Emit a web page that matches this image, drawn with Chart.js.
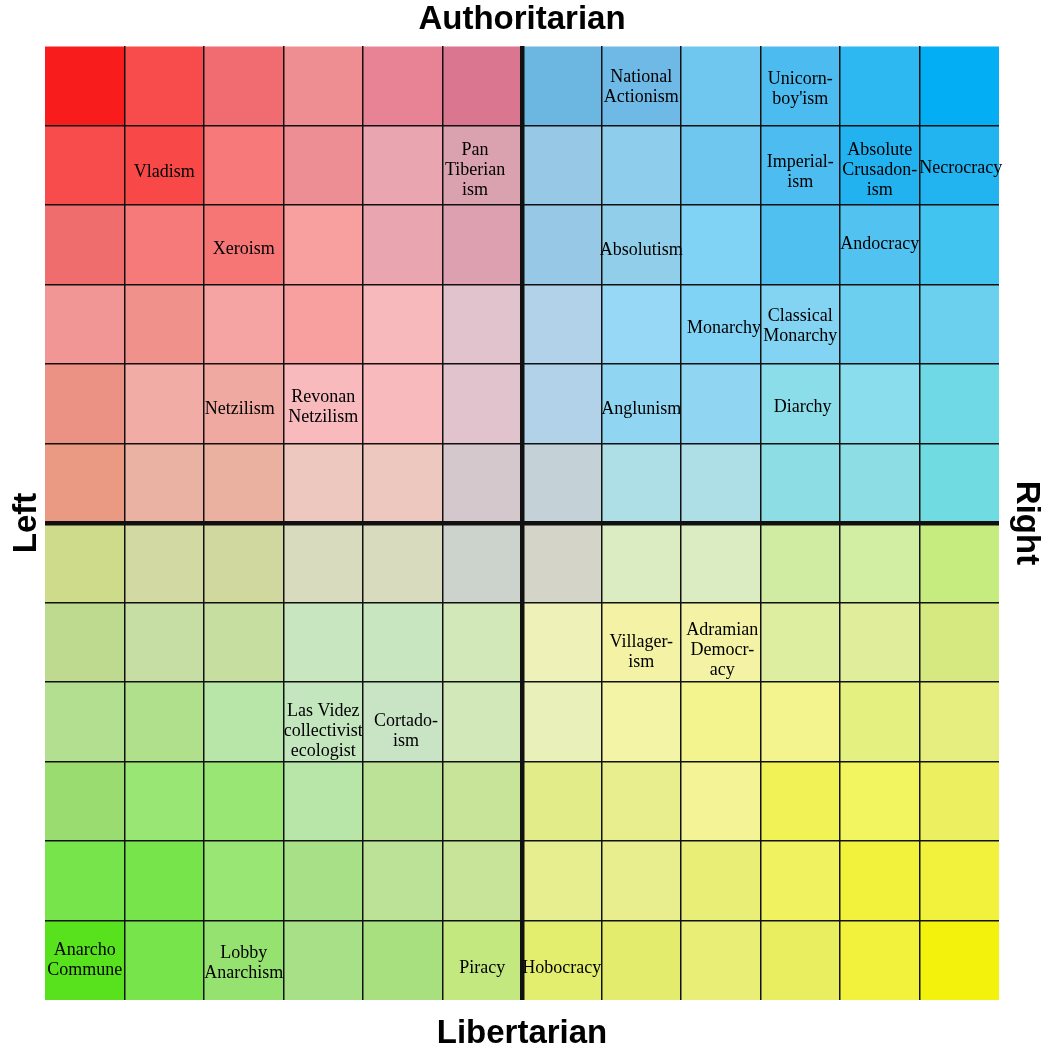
<!DOCTYPE html>
<html>
<head>
<meta charset="utf-8">
<title>Political compass</title>
<script src="https://cdn.jsdelivr.net/npm/chart.js@4.4.1/dist/chart.umd.min.js"></script>
<style>
  body { margin: 0; background: #fff; }
  canvas { display: block; }
</style>
</head>
<body>
<canvas id="compass" width="1050" height="1050"></canvas>
<script>
// columns go left -> right, rows go top (authoritarian) -> bottom (libertarian)
const columns = ['L6', 'L5', 'L4', 'L3', 'L2', 'L1', 'R1', 'R2', 'R3', 'R4', 'R5', 'R6'];
const rows = ['A6', 'A5', 'A4', 'A3', 'A2', 'A1', 'B1', 'B2', 'B3', 'B4', 'B5', 'B6'];

const cellColors = [
    ['#F91C1C', '#F84B4B', '#F06C70', '#EE8E92', '#E88396', '#DA7690', '#6CB6E2', '#6EB9E6', '#6FC7F0', '#4CBCF0', '#2DB8F2', '#04AEF4'],
    ['#F84B4B', '#F84848', '#F77979', '#EC8E93', '#E9A6B0', '#DAA1AF', '#97C8E6', '#8FCDEC', '#6FC7EF', '#4DBCF0', '#22B2F0', '#22B4F0'],
    ['#F06D6E', '#F67A7A', '#F67676', '#F8A0A0', '#E9A6B0', '#DCA0B0', '#97C8E6', '#90CEEA', '#80D3F4', '#50C0F0', '#52C3F0', '#41C5F0'],
    ['#F19595', '#F1918C', '#F6A3A4', '#F8A0A0', '#F8B9BC', '#E0C3CC', '#B1D2E9', '#96D8F6', '#80D3F4', '#83D3F2', '#6CCFF0', '#6BCFEE'],
    ['#EC9284', '#F1ACA6', '#F0A9A1', '#F8BABD', '#F8BABD', '#E0C3CC', '#B1D2E9', '#90D6F3', '#90D6F3', '#8CDDEA', '#8ADDEC', '#70D9E6'],
    ['#EA9A82', '#EAB2A3', '#EAB0A0', '#ECC8BE', '#ECC8BE', '#D4C8CC', '#C4D2D8', '#AEDFE6', '#AEDFE6', '#8DDEE4', '#8DDEE4', '#70DCE2'],
    ['#CEDB8A', '#D2D9A2', '#D0D8A0', '#D8DBBD', '#D8DBBD', '#CCD2CC', '#D4D4C8', '#DCECC2', '#DCECC2', '#D0ECA2', '#D2EEA2', '#C6EC80'],
    ['#BDDA8E', '#C6DDA4', '#C6DEA0', '#C8E6C0', '#C8E6C0', '#D2E8B8', '#EEF2B8', '#F4F2A4', '#F4F2A4', '#DEEEA0', '#E0EE9C', '#D6E880'],
    ['#B2E090', '#B1E08D', '#B8E6A8', '#C4E6BE', '#C8E4C4', '#D2E8B8', '#EAF0BA', '#F4F4A6', '#F4F48E', '#F4F48E', '#E4F080', '#E6EE80'],
    ['#9ADC70', '#9AE674', '#9AE674', '#B8E6A8', '#BCE298', '#C8E498', '#E2EC88', '#E8EE8E', '#F4F496', '#F0F256', '#F2F460', '#ECF060'],
    ['#78E44C', '#78E44C', '#9AE674', '#A8E088', '#BCE298', '#C8E498', '#E6EE90', '#E8EE8E', '#E8EE76', '#F0F260', '#F2F23C', '#F2F23C'],
    ['#58E21E', '#78E44C', '#96E270', '#A8E088', '#A8E080', '#C4E880', '#E4EE6E', '#E4EC6E', '#E8EE76', '#E8EE60', '#F2F23C', '#F2F20C']
];

// ideology names and where they sit, in grid units (column index, rows from the top)
const labelText = [
    'Vladism', 'Pan\nTiberian\nism', 'Xeroism', 'Netzilism', 'Revonan\nNetzilism',
    'National\nActionism', 'Unicorn-\nboy\'ism', 'Imperial-\nism', 'Absolute\nCrusadon-\nism', 'Necrocracy',
    'Absolutism', 'Andocracy', 'Monarchy', 'Classical\nMonarchy', 'Anglunism', 'Diarchy',
    'Villager-\nism', 'Adramian\nDemocr-\nacy', 'Las Videz\ncollectivist\necologist', 'Cortado-\nism',
    'Anarcho\nCommune', 'Lobby\nAnarchism', 'Piracy', 'Hobocracy'
];
const labelCol = [1, 4.91, 2, 1.95, 3, 7, 9, 9, 10, 11.02, 7, 10, 8.04, 9, 7, 9.03, 7, 8.02, 3, 4.04, 0, 2, 5, 6];
const labelRow = [1.56, 1.535, 2.53, 4.55, 4.52, 0.5, 0.52, 1.56, 1.535, 1.51, 2.54, 2.47, 3.52, 3.5, 4.54, 4.52,
    7.6, 7.58, 8.59, 8.6, 11.48, 11.51, 11.58, 11.58];

const titleFont = { family: '"Liberation Sans", Arial, sans-serif', size: 33, weight: 'bold', lineHeight: 1 };

const lineColor = (isEdge) => isEdge ? 'rgba(0,0,0,0)' : '#111';

const cellLabels = {
    id: 'cellLabels',
    afterDraw(chart) {
        const ctx = chart.ctx;
        const x = chart.scales.x;
        const y = chart.scales.y;
        ctx.save();
        ctx.font = '18px "Liberation Serif", "Times New Roman", serif';
        ctx.fillStyle = '#000';
        ctx.textAlign = 'center';
        ctx.textBaseline = 'middle';
        labelText.forEach((t, i) => {
            const lines = t.split('\n');
            const cx = x.getPixelForValue(labelCol[i]);
            const cy = y.getPixelForValue(labelRow[i]) + 2;
            lines.forEach((ln, k) => {
                ctx.fillText(ln, cx, cy + (k - (lines.length - 1) / 2) * 20);
            });
        });
        ctx.restore();
    }
};

const datasets = rows.map((r, i) => ({
    label: r,
    data: columns.map(() => 1),
    backgroundColor: cellColors[i],
    borderWidth: 0,
    barPercentage: 1,
    categoryPercentage: 1
}));

new Chart('compass', {
    type: 'bar',
    data: { labels: columns, datasets },
    options: {
        responsive: false,
        animation: false,
        devicePixelRatio: 1,
        layout: { padding: 0 },
        plugins: { legend: { display: false }, tooltip: { enabled: false } },
        scales: {
            x: {
                stacked: true,
                offset: true,
                grid: {
                    offset: true,
                    z: 1,
                    drawTicks: false,
                    color: (c) => lineColor(c.index === undefined || c.index === 0),
                    lineWidth: (c) => c.index === 6 ? 4.5 : 1.5
                },
                border: { display: false },
                ticks: { display: false },
                title: { display: true, text: 'Libertarian', color: '#000', font: titleFont, padding: { top: 17, bottom: 0 } }
            },
            x2: {
                type: 'category',
                position: 'top',
                labels: columns,
                grid: { display: false, drawTicks: false },
                border: { display: false },
                ticks: { display: false },
                title: { display: true, text: 'Authoritarian', color: '#000', font: titleFont, padding: { top: 3, bottom: 10 } }
            },
            y: {
                stacked: true,
                min: 0,
                max: 12,
                reverse: true,
                grid: {
                    z: 1,
                    drawTicks: false,
                    color: (c) => lineColor(!c.tick || c.tick.value === 0 || c.tick.value === 12),
                    lineWidth: (c) => (c.tick && c.tick.value === 6) ? 4.5 : 1.5
                },
                border: { display: false },
                ticks: { display: false, stepSize: 1 },
                title: { display: true, text: 'Left', color: '#000', font: titleFont, padding: { top: 10, bottom: 2 } }
            },
            y2: {
                type: 'linear',
                position: 'right',
                min: 0,
                max: 12,
                grid: { display: false, drawTicks: false },
                border: { display: false },
                ticks: { display: false },
                title: { display: true, text: 'Right', color: '#000', font: titleFont, padding: { top: 7, bottom: 11 } }
            }
        }
    },
    plugins: [cellLabels]
});
</script>
</body>
</html>
